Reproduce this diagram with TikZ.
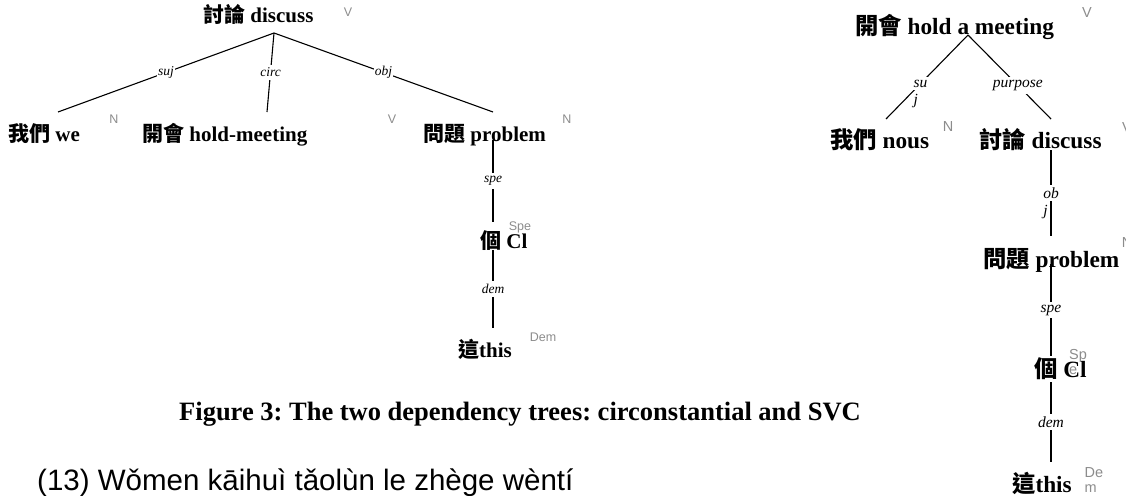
\documentclass[tikz,border=0pt]{standalone}
\usepackage{fontspec}
\setmainfont{Liberation Serif}
\newfontfamily\zhfont{Noto Sans CJK TC}
\newfontfamily\posfont{Liberation Sans}
\definecolor{posgray}{HTML}{8C8C8C}
\frenchspacing

\begin{document}
\begin{tikzpicture}[x=1pt,y=-1pt]
  \tikzset{word/.style = {anchor=base west,inner sep=0pt,font=\fontsize{21}{25}\selectfont\bfseries}}
  \tikzset{bigword/.style = {word,font=\fontsize{23.3}{28}\selectfont\bfseries}}
  \tikzset{rel/.style = {fill=white,inner xsep=1pt,inner ysep=3pt,font=\fontsize{13.5}{16}\selectfont\itshape}}
  \tikzset{bigrel/.style = {rel,font=\fontsize{15.5}{17}\selectfont\itshape}}
  \tikzset{jlab/.style = {anchor=base west,inner sep=0pt,xshift=1pt,yshift=-17pt,font=\fontsize{15.5}{17}\selectfont\itshape}}
  \tikzset{cat/.style = {text=posgray,inner sep=0pt,align=left,font=\fontsize{12.5}{15}\selectfont\posfont}}
  \tikzset{bigcat/.style = {cat,font=\fontsize{14.5}{15}\selectfont\posfont}}
  \tikzset{dep/.style = {line width=1.1pt}}

  \useasboundingbox (0,0) rectangle (1126,495);
  \clip (0,0) rectangle (1126,495);

  % circonstantial tree
  \node[word] (d1) at (203,23) {{\zhfont 討論} discuss};
  \node[word] (we) at (8,141) {{\zhfont 我們} we};
  \node[word] (hm) at (142,141) {{\zhfont 開會} hold-meeting};
  \node[word] (pr1) at (423,141) {{\zhfont 問題} problem};
  \node[word] (cl1) at (480,248) {{\zhfont 個} Cl};
  \node[word] (th1) at (458,357) {{\zhfont 這}this};

  \node[cat] (d1c) at (348,12) {V};
  \node[cat] (wec) at (114,119) {N};
  \node[cat] (hmc) at (392,119) {V};
  \node[cat] (pr1c) at (567,119) {N};
  \node[cat] (cl1c) at (520,227) {Spe};
  \node[cat] (th1c) at (543,337) {Dem};

  \coordinate (d1-dn) at (274,33);
  \coordinate (we-up) at (58,112);
  \coordinate (hm-up) at (267,112);
  \coordinate (pr1-up) at (493,112);
  \coordinate (pr1-dn) at (493,140);
  \coordinate (cl1-up) at (493,222);
  \coordinate (cl1-dn) at (493,250);
  \coordinate (th1-up) at (493,328);

  \foreach \from/\to/\rel in {d1-dn/we-up/suj, d1-dn/hm-up/circ, d1-dn/pr1-up/obj, pr1-dn/cl1-up/spe, cl1-dn/th1-up/dem}
    \path[dep] (\from) edge node[rel]{\rel} (\to);

  % SVC tree
  \node[bigword] (d2) at (855,35) {{\zhfont 開會} hold a meeting};
  \node[bigword] (nous) at (830,148) {{\zhfont 我們} nous};
  \node[bigword] (dc2) at (979,148) {{\zhfont 討論} discuss};
  \node[bigword] (pr2) at (983,267) {{\zhfont 問題} problem};
  \node[bigword] (cl2) at (1034,377) {{\zhfont 個} Cl};
  \node[bigword] (th2) at (1012,492) {{\zhfont 這}this};

  \node[bigcat] (d2c) at (1087,13) {V};
  \node[bigcat] (nousc) at (948,127) {N};
  \node[bigcat] (dc2c) at (1127,128) {V};
  \node[bigcat] (pr2c) at (1127,243) {N};
  \node[bigcat] (cl2c) at (1078,362) {Sp\\e};
  \node[bigcat] (th2c) at (1094,480) {De\\m};

  \coordinate (d2-dn) at (968,35);
  \coordinate (nous-up) at (886,119);
  \coordinate (dc2-up) at (1051,119);
  \coordinate (dc2-dn) at (1051,150);
  \coordinate (pr2-up) at (1051,236);
  \coordinate (pr2-dn) at (1051,264);
  \coordinate (cl2-up) at (1051,356);
  \coordinate (cl2-dn) at (1051,382);
  \coordinate (th2-up) at (1051,462);

  \path[dep] (d2-dn) edge node[bigrel,pos=.58,label={[jlab]base west:j}]{su} (nous-up);
  \path[dep] (d2-dn) edge node[bigrel,pos=.6]{purpose} (dc2-up);
  \path[dep] (dc2-dn) edge node[bigrel,label={[jlab]base west:j}]{ob} (pr2-up);
  \foreach \from/\to/\rel in {pr2-dn/cl2-up/spe, cl2-dn/th2-up/dem}
    \path[dep] (\from) edge node[bigrel]{\rel} (\to);

  \node[anchor=base west,inner sep=0pt,font=\fontsize{26.5}{30}\selectfont\bfseries] (cap) at (179,420) {Figure 3: The two dependency trees: circonstantial and SVC};
  \node[anchor=base west,inner sep=0pt,font=\fontsize{29.5}{34}\selectfont\posfont] (ex13) at (37,490) {(13) Wǒmen kāihuì tǎolùn le zhège wèntí};
\end{tikzpicture}
\end{document}
